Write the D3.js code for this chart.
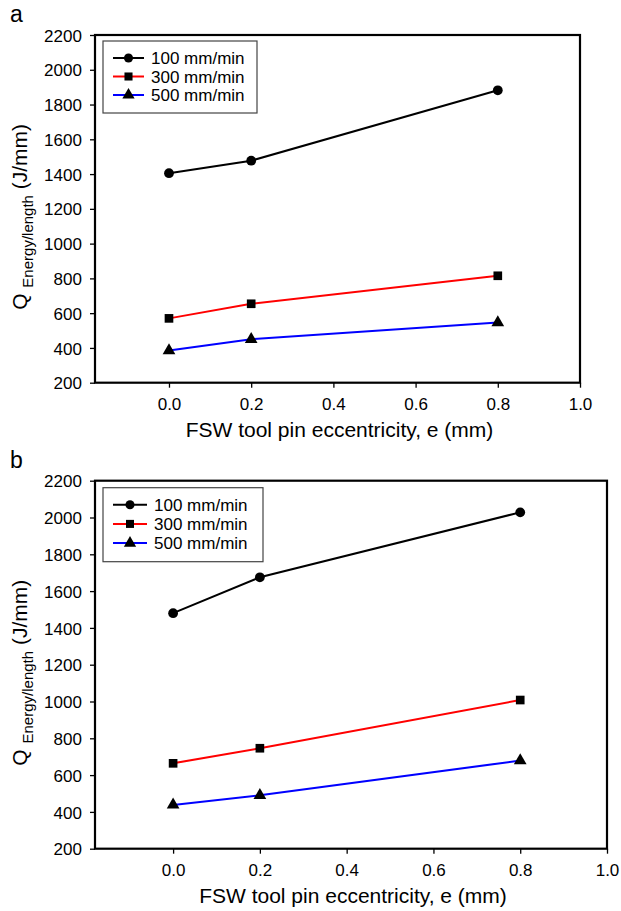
<!DOCTYPE html>
<html>
<head>
<meta charset="utf-8">
<script src="https://cdn.jsdelivr.net/npm/d3@7"></script>
<style>
  body { margin: 0; background: #fff; }
  svg { display: block; font-family: "Liberation Sans", Arial, sans-serif; }
</style>
</head>
<body>
<div id="chart"></div>
<script>
// x positions (tool pin eccentricity, mm)
const eccentricity = [0.0, 0.2, 0.8];
const seriesNames = ["100 mm/min", "300 mm/min", "500 mm/min"];
const seriesColors = ["#000000", "#ff0000", "#0000ff"];
const markerTypes = [d3.symbolCircle, d3.symbolSquare, d3.symbolTriangle];

// panel a values
const a100 = [1405, 1477, 1882];
const a300 = [570, 654, 815];
const a500 = [385, 450, 546];

// panel b values
const b100 = [1480, 1675, 2028];
const b300 = [664, 746, 1008];
const b500 = [438, 490, 679];

const xTicks = [0.0, 0.2, 0.4, 0.6, 0.8, 1.0];
const yTicks = [200, 400, 600, 800, 1000, 1200, 1400, 1600, 1800, 2000, 2200];

const svg = d3.select("#chart").append("svg")
    .attr("width", 621)
    .attr("height", 911);

// draw one panel
function drawPanel(label, values, box, legendBox) {
    const g = svg.append("g");
    const x = d3.scaleLinear().domain([-0.18, 1.0]).range([box.left, box.right]);
    const y = d3.scaleLinear().domain([200, 2200]).range([box.bottom, box.top]);

    g.append("text")
        .attr("x", 10).attr("y", box.top - 13)
        .style("font-size", "23px")
        .text(label);

    // axes
    const xAxis = g.append("g")
        .attr("transform", `translate(0,${box.bottom})`)
        .call(d3.axisBottom(x).tickValues(xTicks).tickFormat(d3.format(".1f")).tickSize(5).tickSizeOuter(0));
    const yAxis = g.append("g")
        .attr("transform", `translate(${box.left},0)`)
        .call(d3.axisLeft(y).tickValues(yTicks).tickFormat(d3.format("d")).tickSize(5).tickSizeOuter(0));
    [xAxis, yAxis].forEach(ax => {
        ax.select(".domain").remove();
        ax.selectAll("line").attr("stroke", "#000").attr("stroke-width", 1.3);
        ax.selectAll("text").attr("fill", "#000").style("font-size", "17px").attr("font-family", null);
    });
    xAxis.selectAll("text").attr("dy", "1.15em");
    yAxis.selectAll("text").attr("dx", "-0.3em").attr("dy", "0.36em");

    // frame
    g.append("rect")
        .attr("x", box.left).attr("y", box.top)
        .attr("width", box.right - box.left)
        .attr("height", box.bottom - box.top)
        .attr("fill", "none")
        .attr("stroke", "#000")
        .attr("stroke-width", 2.2);

    // axis titles
    g.append("text")
        .attr("x", (box.left + box.right) / 2 + 2)
        .attr("y", box.bottom + 54)
        .attr("text-anchor", "middle")
        .style("font-size", "21px")
        .text("FSW tool pin eccentricity, e (mm)");

    const yt = g.append("text")
        .attr("transform", `translate(27,${(box.top + box.bottom) / 2 + 8}) rotate(-90)`)
        .attr("text-anchor", "middle")
        .style("font-size", "21px");
    yt.append("tspan").text("Q ");
    yt.append("tspan").attr("dy", 6).style("font-size", "15px").text("Energy/length");
    yt.append("tspan").attr("dy", -6).text(" (J/mm)");

    // series
    const line = d3.line().x((d, i) => x(eccentricity[i])).y(d => y(d));
    values.forEach((vals, k) => {
        g.append("path")
            .datum(vals)
            .attr("d", line)
            .attr("fill", "none")
            .attr("stroke", seriesColors[k])
            .attr("stroke-width", 2);
        g.selectAll(null)
            .data(vals)
            .enter().append("path")
            .attr("transform", (d, i) => `translate(${x(eccentricity[i])},${y(d)})`)
            .attr("d", d3.symbol().type(markerTypes[k]).size(k === 2 ? 70 : 75))
            .attr("fill", "#000");
    });

    // legend
    const lg = g.append("g");
    lg.append("rect")
        .attr("x", legendBox.x).attr("y", legendBox.y)
        .attr("width", legendBox.w).attr("height", legendBox.h)
        .attr("fill", "#fff")
        .attr("stroke", "#444")
        .attr("stroke-width", 1.2);
    seriesNames.forEach((name, k) => {
        const ly = legendBox.y + 17 + k * legendBox.step;
        lg.append("line")
            .attr("x1", legendBox.x + 10).attr("x2", legendBox.x + 10 + legendBox.lineW)
            .attr("y1", ly).attr("y2", ly)
            .attr("stroke", seriesColors[k]).attr("stroke-width", 2);
        lg.append("path")
            .attr("transform", `translate(${legendBox.x + 10 + legendBox.lineW / 2},${ly})`)
            .attr("d", d3.symbol().type(markerTypes[k]).size(65))
            .attr("fill", "#000");
        lg.append("text")
            .attr("x", legendBox.x + 10 + legendBox.lineW + 7)
            .attr("y", ly)
            .attr("dy", "0.36em")
            .style("font-size", "17px")
            .text(name);
    });
}

drawPanel("a", [a100, a300, a500],
    { left: 95, right: 580, top: 35, bottom: 382.7 },
    { x: 103, y: 41, w: 154, h: 72, step: 18.5, lineW: 31 });

drawPanel("b", [b100, b300, b500],
    { left: 95, right: 607, top: 480.7, bottom: 848.7 },
    { x: 103, y: 487.7, w: 160, h: 74, step: 19.2, lineW: 34 });
</script>
</body>
</html>
